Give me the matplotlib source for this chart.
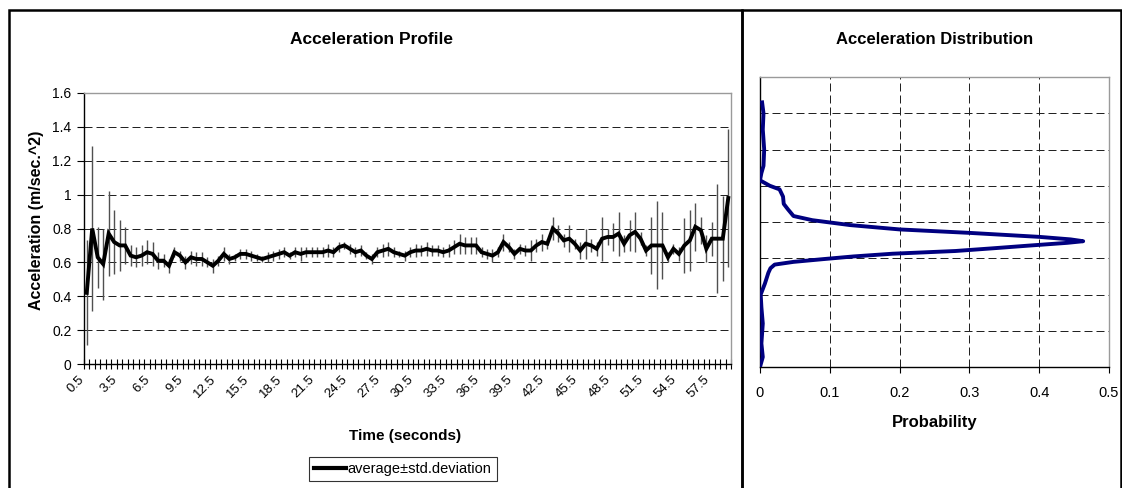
import numpy as np
import matplotlib
matplotlib.use("Agg")
import matplotlib.pyplot as plt
from matplotlib.patches import Rectangle
from matplotlib.lines import Line2D
from matplotlib.ticker import FixedLocator

plt.rcParams['font.family'] = ['Liberation Sans', 'DejaVu Sans']

# time axis: 0.5 s steps
time_s = np.arange(1, 119) * 0.5

avg_acc = [0.42, 0.80, 0.63, 0.59, 0.77, 0.72, 0.70, 0.70, 0.64, 0.63,
           0.64, 0.66, 0.65, 0.61, 0.61, 0.58, 0.66, 0.64, 0.60, 0.63,
           0.62, 0.62, 0.60, 0.58, 0.61, 0.65, 0.62, 0.63, 0.65, 0.65,
           0.64, 0.63, 0.62, 0.63, 0.64, 0.65, 0.66, 0.64, 0.66, 0.65,
           0.66, 0.66, 0.66, 0.66, 0.67, 0.66, 0.69, 0.70, 0.68, 0.66,
           0.67, 0.64, 0.62, 0.66, 0.67, 0.68, 0.66, 0.65, 0.64, 0.66,
           0.67, 0.67, 0.68, 0.67, 0.67, 0.66, 0.67, 0.69, 0.71, 0.70,
           0.70, 0.70, 0.66, 0.65, 0.64, 0.66, 0.72, 0.69, 0.65, 0.68,
           0.67, 0.67, 0.70, 0.72, 0.71, 0.80, 0.77, 0.73, 0.74, 0.71,
           0.67, 0.71, 0.70, 0.68, 0.74, 0.75, 0.75, 0.77, 0.71, 0.76,
           0.78, 0.74, 0.67, 0.70, 0.70, 0.70, 0.63, 0.68, 0.65, 0.70,
           0.73, 0.81, 0.79, 0.68, 0.74, 0.74, 0.74, 0.98]

std_acc = [0.31, 0.49, 0.18, 0.21, 0.25, 0.19, 0.15, 0.11, 0.06, 0.06,
           0.06, 0.07, 0.07, 0.05, 0.04, 0.04, 0.03, 0.03, 0.04, 0.04,
           0.04, 0.04, 0.03, 0.04, 0.03, 0.04, 0.03, 0.02, 0.03, 0.03,
           0.03, 0.02, 0.02, 0.03, 0.03, 0.03, 0.03, 0.02, 0.03, 0.04,
           0.03, 0.03, 0.03, 0.03, 0.04, 0.03, 0.03, 0.02, 0.03, 0.03,
           0.03, 0.02, 0.03, 0.03, 0.04, 0.04, 0.03, 0.02, 0.03, 0.03,
           0.04, 0.03, 0.04, 0.03, 0.03, 0.03, 0.04, 0.04, 0.06, 0.05,
           0.05, 0.05, 0.03, 0.03, 0.04, 0.03, 0.05, 0.03, 0.03, 0.03,
           0.03, 0.06, 0.04, 0.05, 0.03, 0.07, 0.05, 0.04, 0.08, 0.03,
           0.05, 0.09, 0.04, 0.04, 0.13, 0.05, 0.08, 0.13, 0.05, 0.09,
           0.12, 0.04, 0.03, 0.17, 0.26, 0.20, 0.03, 0.03, 0.04, 0.16,
           0.18, 0.14, 0.08, 0.08, 0.10, 0.32, 0.25, 0.41]

# distribution curve (acceleration vs probability)
dist_acc = [1.46, 1.40, 1.31, 1.20, 1.11, 1.07, 1.03, 1.00, 0.98, 0.94,
            0.90, 0.87, 0.833, 0.81, 0.783, 0.759, 0.74, 0.718, 0.704, 0.694,
            0.685, 0.67, 0.655, 0.64, 0.625, 0.61, 0.595, 0.58, 0.565, 0.545,
            0.52, 0.46, 0.40, 0.33, 0.24, 0.13, 0.055, 0.0]
dist_prob = [0.003, 0.005, 0.004, 0.006, 0.005, 0.002, 0.0, 0.014, 0.028, 0.033,
             0.034, 0.040, 0.048, 0.075, 0.129, 0.20, 0.30, 0.40, 0.445, 0.463,
             0.44, 0.386, 0.334, 0.28, 0.19, 0.134, 0.09, 0.048, 0.021, 0.015,
             0.012, 0.007, 0.001, 0.002, 0.004, 0.002, 0.004, 0.0]

acc_ticks = [0, 0.2, 0.4, 0.6, 0.8, 1, 1.2, 1.4, 1.6]
acc_labels = ['0', '0.2', '0.4', '0.6', '0.8', '1', '1.2', '1.4', '1.6']
time_labels = [f'{v:g}' for v in np.arange(0.5, 58, 3)]
prob_ticks = [0, 0.1, 0.2, 0.3, 0.4, 0.5]
prob_labels = ['0', '0.1', '0.2', '0.3', '0.4', '0.5']

W, H = 1122, 488
fig = plt.figure(figsize=(W / 100, H / 100), dpi=100)

def fx(px):
    return px / W

def fy(py):
    return 1 - py / H

# panel frames
fig.add_artist(Rectangle((fx(9), -0.1), fx(742) - fx(9), fy(10) + 0.1,
                         transform=fig.transFigure, fill=False, lw=1.8, ec='black'))
fig.add_artist(Rectangle((fx(742), -0.1), fx(1121) - fx(742), fy(10) + 0.1,
                         transform=fig.transFigure, fill=False, lw=1.8, ec='black'))

grid_kw = dict(color='#222222', linewidth=0.72, linestyle=(0, (8, 4)))

# ---------- left: profile ----------
ax = fig.add_axes([fx(84), fy(364), fx(731) - fx(84), fy(93) - fy(364)])
ax.errorbar(time_s, avg_acc, yerr=std_acc, fmt='none', ecolor='#505050',
            elinewidth=1.0, capsize=0, zorder=2)
ax.plot(time_s, avg_acc, color='black', lw=2.8, zorder=3,
        solid_joinstyle='miter')
ax.set_xlim(0.25, 59.25)
ax.set_ylim(0, 1.6)
ax.set_yticks(acc_ticks)
ax.set_yticklabels(acc_labels, fontsize=10)
ax.set_xticks(np.arange(0.5, 58, 3))
ax.set_xticklabels(time_labels, rotation=45, ha='right', fontsize=9.5)
ax.xaxis.set_minor_locator(FixedLocator(np.arange(0.25, 59.3, 0.5)))
ax.tick_params(axis='x', which='major', length=0, pad=7)
ax.tick_params(axis='x', which='minor', direction='inout', length=7, width=0.8)
ax.tick_params(axis='y', direction='out', length=5, width=0.8, pad=4)
ax.set_axisbelow(True)
ax.yaxis.grid(True, **grid_kw)
for s in ['top', 'right']:
    ax.spines[s].set_color('#9a9a9a')
    ax.spines[s].set_linewidth(1.0)
for s in ['left', 'bottom']:
    ax.spines[s].set_color('black')
    ax.spines[s].set_linewidth(1.0)

fig.text(fx(372), fy(40), 'Acceleration Profile', ha='center', va='center',
         fontsize=12.5, fontweight='bold')
fig.text(fx(37), fy(220), 'Acceleration (m/sec.^2)', ha='center', va='center',
         rotation=90, fontsize=11.5, fontweight='bold')
fig.text(fx(405), fy(436), 'Time (seconds)', ha='center', va='center',
         fontsize=11, fontweight='bold')

handle = Line2D([], [], color='black', lw=3)
leg = fig.legend([handle], ['average\u00b1std.deviation'],
                 loc='center', bbox_to_anchor=(fx(403), fy(469)),
                 fontsize=10.5, frameon=True, fancybox=False,
                 handlelength=2.2, handletextpad=0.1, borderpad=0.35,
                 borderaxespad=0)
leg.get_frame().set_edgecolor('black')
leg.get_frame().set_linewidth(0.8)

# ---------- right: distribution ----------
ax2 = fig.add_axes([fx(760), fy(367), fx(1109) - fx(760), fy(77) - fy(367)])
ax2.plot(dist_prob, dist_acc, color='#000080', lw=2.8, zorder=3)
ax2.set_xlim(0, 0.5)
ax2.set_ylim(0, 1.6)
ax2.set_xticks(prob_ticks)
ax2.set_xticklabels(prob_labels, fontsize=10.5)
ax2.set_yticks(acc_ticks)
ax2.set_yticklabels([])
ax2.tick_params(axis='x', direction='out', length=4, width=0.8, pad=10)
ax2.tick_params(axis='y', direction='out', length=0)
ax2.set_axisbelow(True)
ax2.grid(True, **grid_kw)
for s in ['top', 'right']:
    ax2.spines[s].set_color('#9a9a9a')
    ax2.spines[s].set_linewidth(1.0)
for s in ['left', 'bottom']:
    ax2.spines[s].set_color('black')
    ax2.spines[s].set_linewidth(1.0)

fig.text(fx(935), fy(39), 'Acceleration Distribution', ha='center', va='center',
         fontsize=12, fontweight='bold')
fig.text(fx(935), fy(423), 'Probability', ha='center', va='center',
         fontsize=12, fontweight='bold')

fig.savefig('out.png', dpi=100)
